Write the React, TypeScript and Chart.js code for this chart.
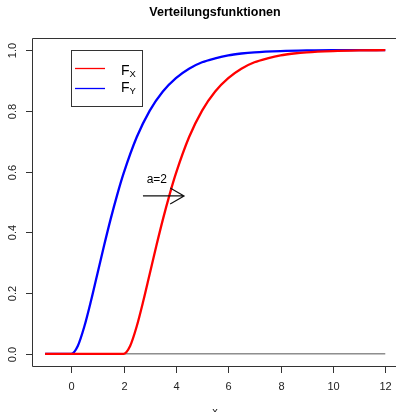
import React, { useEffect, useRef } from "react";
import { Chart, registerables } from "chart.js";

Chart.register(...registerables);

const titleText = "Verteilungsfunktionen";
const xAxisLabel = "x";
const xTicks = [0, 2, 4, 6, 8, 10, 12];
const yTicks = [0, 0.2, 0.4, 0.6, 0.8, 1.0];

// F_Y (blue)
const xY = [-1, -0.5, 0, 0.25, 0.5, 0.75, 1, 1.25, 1.5, 1.75, 2, 2.5, 3, 3.5, 4, 4.5, 5, 5.5, 6, 6.5, 7, 8, 9, 10, 11, 12];
const fY = [0, 0, 0, 0.026, 0.09, 0.173, 0.264, 0.355, 0.442, 0.522, 0.594, 0.713, 0.801, 0.864, 0.908, 0.939, 0.96, 0.973, 0.983, 0.989, 0.993, 0.997, 0.999, 1.0, 1.0, 1.0];

// F_X (red)
const xX = [-1, 0, 1, 2, 2.25, 2.5, 2.75, 3, 3.25, 3.5, 3.75, 4, 4.5, 5, 5.5, 6, 6.5, 7, 7.5, 8, 8.5, 9, 10, 11, 12];
const fX = [0, 0, 0, 0, 0.026, 0.09, 0.173, 0.264, 0.355, 0.442, 0.522, 0.594, 0.713, 0.801, 0.864, 0.908, 0.939, 0.96, 0.973, 0.983, 0.989, 0.993, 0.997, 0.999, 1.0];

// reference line at 0
const xZero = [-1, 12];
const fZero = [0, 0];

// annotation
const arrowFrom = [2.74, 0.52];
const arrowTo = [4.31, 0.52];
const arrowLabel = "a=2";
const arrowLabelPos = [3.27, 0.574];

const legendItems = [
  { main: "F", sub: "X", color: "#ff0000" },
  { main: "F", sub: "Y", color: "#0000ff" },
];

const FONT = "'Liberation Sans', Arial, Helvetica, sans-serif";

const rPlot = {
  id: "rPlot",
  afterDraw(chart: any) {
    const ctx = chart.ctx as CanvasRenderingContext2D;
    const ca = chart.chartArea;
    const xs = chart.scales.x;
    const ys = chart.scales.y;
    ctx.save();
    ctx.strokeStyle = "#333";
    ctx.lineWidth = 1;
    // box (right side lies beyond canvas)
    ctx.beginPath();
    ctx.moveTo(chart.width + 5, ca.top + 0.5);
    ctx.lineTo(ca.left + 0.5, ca.top + 0.5);
    ctx.lineTo(ca.left + 0.5, ca.bottom + 0.5);
    ctx.lineTo(chart.width + 5, ca.bottom + 0.5);
    ctx.stroke();

    ctx.fillStyle = "#222";
    ctx.font = `11px ${FONT}`;
    // y ticks
    for (const v of yTicks) {
      const y = Math.round(ys.getPixelForValue(v)) + 0.5;
      ctx.beginPath();
      ctx.moveTo(ca.left - 6, y);
      ctx.lineTo(ca.left, y);
      ctx.stroke();
      ctx.save();
      ctx.translate(13, y);
      ctx.rotate(-Math.PI / 2);
      ctx.textAlign = "center";
      ctx.textBaseline = "middle";
      ctx.fillText(v.toFixed(1), 0, 0);
      ctx.restore();
    }
    // x ticks
    for (const v of xTicks) {
      const x = Math.round(xs.getPixelForValue(v)) + 0.5;
      ctx.beginPath();
      ctx.moveTo(x, ca.bottom);
      ctx.lineTo(x, ca.bottom + 7);
      ctx.stroke();
      ctx.textAlign = "center";
      ctx.textBaseline = "middle";
      ctx.fillText(String(v), x, 386.5);
    }
    // axis label
    ctx.textAlign = "center";
    ctx.textBaseline = "alphabetic";
    ctx.fillText(xAxisLabel, 215, 415);

    // title
    ctx.font = `bold 12.5px ${FONT}`;
    ctx.fillStyle = "#000";
    ctx.fillText(titleText, 215, 16);

    // legend
    ctx.strokeStyle = "#333";
    ctx.strokeRect(71.5, 50.5, 71, 56);
    legendItems.forEach((it, i) => {
      const ly = 68.5 + i * 20;
      ctx.strokeStyle = it.color;
      ctx.lineWidth = 1.3;
      ctx.beginPath();
      ctx.moveTo(75, ly);
      ctx.lineTo(105, ly);
      ctx.stroke();
      ctx.fillStyle = "#000";
      ctx.textAlign = "left";
      ctx.textBaseline = "alphabetic";
      ctx.font = `14px ${FONT}`;
      const base = 74.5 + i * 17.5;
      ctx.fillText(it.main, 121, base);
      const w = ctx.measureText(it.main).width;
      ctx.font = `9.5px ${FONT}`;
      ctx.fillText(it.sub, 121 + w, base + 2);
    });

    // arrow
    const ax0 = xs.getPixelForValue(arrowFrom[0]);
    const ay0 = ys.getPixelForValue(arrowFrom[1]);
    const ax1 = xs.getPixelForValue(arrowTo[0]);
    const ay1 = ys.getPixelForValue(arrowTo[1]);
    ctx.strokeStyle = "#111";
    ctx.lineWidth = 1.2;
    ctx.beginPath();
    ctx.moveTo(ax0, ay0);
    ctx.lineTo(ax1, ay1);
    const L = 16;
    const ang = Math.PI / 6;
    ctx.moveTo(ax1 - L * Math.cos(ang), ay1 - L * Math.sin(ang));
    ctx.lineTo(ax1, ay1);
    ctx.lineTo(ax1 - L * Math.cos(ang), ay1 + L * Math.sin(ang));
    ctx.stroke();
    ctx.fillStyle = "#000";
    ctx.font = `12px ${FONT}`;
    ctx.textAlign = "center";
    ctx.textBaseline = "middle";
    ctx.fillText(arrowLabel, xs.getPixelForValue(arrowLabelPos[0]), ys.getPixelForValue(arrowLabelPos[1]));
    ctx.restore();
  },
};

export default function App() {
  const ref = useRef<HTMLCanvasElement | null>(null);
  useEffect(() => {
    if (!ref.current) return;
    const toPts = (xa: number[], ya: number[]) => xa.map((x, i) => ({ x, y: ya[i] }));
    const chart = new Chart(ref.current, {
      type: "line",
      data: {
        datasets: [
          {
            label: "F_X",
            data: toPts(xX, fX),
            borderColor: "#ff0000",
            borderWidth: 2.3,
            pointRadius: 0,
            cubicInterpolationMode: "monotone",
            fill: false,
          },
          {
            label: "F_Y",
            data: toPts(xY, fY),
            borderColor: "#0000ff",
            borderWidth: 2.3,
            pointRadius: 0,
            cubicInterpolationMode: "monotone",
            fill: false,
          },
          {
            label: "zero",
            data: toPts(xZero, fZero),
            borderColor: "#555555",
            borderWidth: 1,
            pointRadius: 0,
            fill: false,
          },
        ],
      },
      options: {
        animation: false,
        responsive: false,
        devicePixelRatio: 1,
        layout: { padding: { left: 32, top: 38, right: 0, bottom: 46 } },
        plugins: { legend: { display: false }, tooltip: { enabled: false }, title: { display: false } },
        scales: {
          x: { type: "linear", min: -1.5, max: 12.41, display: false },
          y: { type: "linear", min: -0.04, max: 1.04, display: false },
        },
      },
      plugins: [rPlot],
    } as any);
    return () => chart.destroy();
  }, []);
  return (
    <div style={{ position: "fixed", left: 0, top: 0, width: 396, height: 412, overflow: "hidden", background: "#fff" }}>
      <canvas ref={ref} width={396} height={412} style={{ width: 396, height: 412, display: "block" }} />
    </div>
  );
}
